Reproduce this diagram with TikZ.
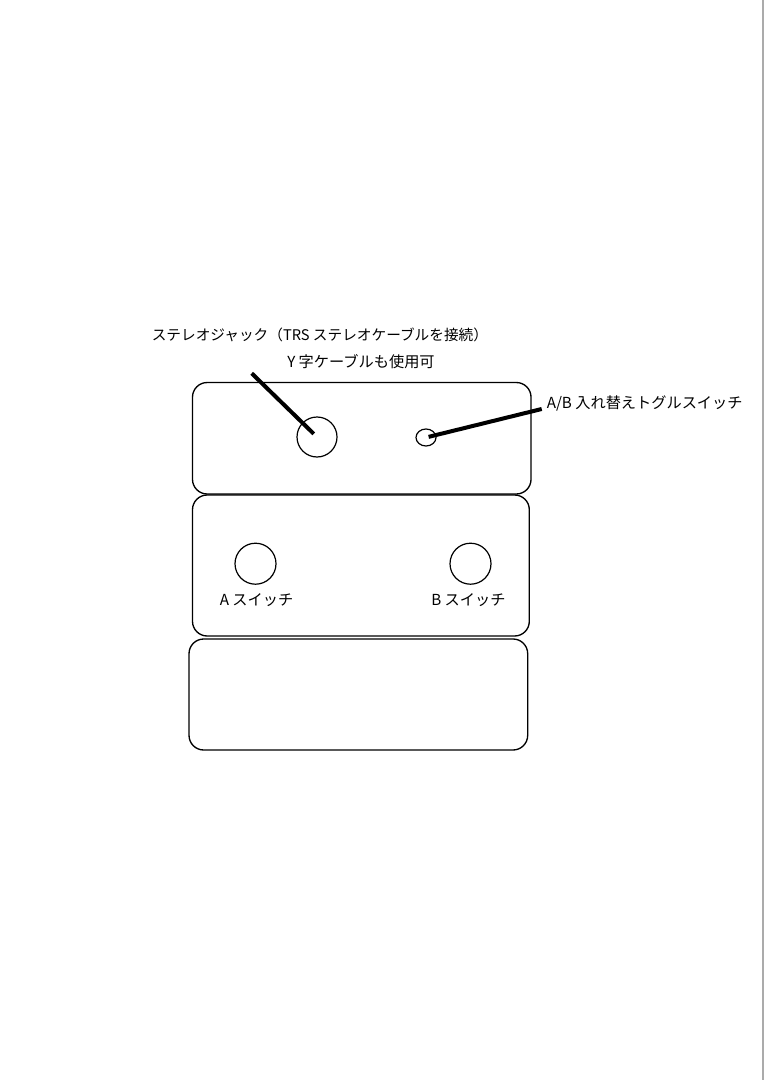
\documentclass[tikz,border=0pt]{standalone}
\usepackage{fontspec}
\setmainfont{Noto Sans CJK JP}
\usetikzlibrary{shapes.geometric}
\begin{document}
\begin{tikzpicture}[x=0.75pt,y=-0.75pt,
  panel/.style={draw, line width=1pt, rounded corners=11pt, inner sep=0pt, outer sep=0pt},
  hole/.style={draw, circle, line width=0.9pt, inner sep=0pt, outer sep=0pt},
  leader/.style={line width=3pt},
  lbl/.style={anchor=west, inner sep=0pt, font=\fontsize{11.4}{13}\selectfont}]
\useasboundingbox (0,0) rectangle (764,1080);
\fill[white] (0,0) rectangle (764,1080);
\draw[line width=1.5pt, color=black!33] (763,0) -- (763,1080);
% panels
\node[panel, minimum width=253.9pt, minimum height=83.6pt] (p1) at (361.75,438.25) {};
\node[panel, minimum width=252.6pt, minimum height=105.75pt] (p2) at (360.9,565.5) {};
\node[panel, minimum width=254pt, minimum height=83.25pt] (p3) at (358.35,694.5) {};
% holes
\node[hole, minimum size=30pt] (jack) at (317,437) {};
\node[draw, ellipse, line width=0.9pt, inner sep=0pt, minimum width=15pt, minimum height=12.75pt] (tog) at (426,437.5) {};
\node[hole, minimum size=30.75pt] (swa) at (255.5,563.7) {};
\node[hole, minimum size=30.75pt] (swb) at (470.5,563.7) {};
% labels
\node[lbl, font=\fontsize{11}{13}\selectfont] (t1) at (151.5,335) {ステレオジャック（TRS ステレオケーブルを接続）};
\node[lbl] (t2) at (287,361.5) {Y 字ケーブルも使用可};
\node[lbl] (t3) at (546.5,403) {A/B 入れ替えトグルスイッチ};
\node[lbl] (t4) at (219.5,600) {A スイッチ};
\node[lbl] (t5) at (431,600) {B スイッチ};
% leaders
\coordinate (jl) at (251.7,373.3);
\coordinate (tl) at (541.7,409);
\draw[leader, shorten >=3.4pt] (jl) -- (jack.center);
\draw[leader, shorten <=2pt] (tog.center) -- (tl);
\end{tikzpicture}
\end{document}
